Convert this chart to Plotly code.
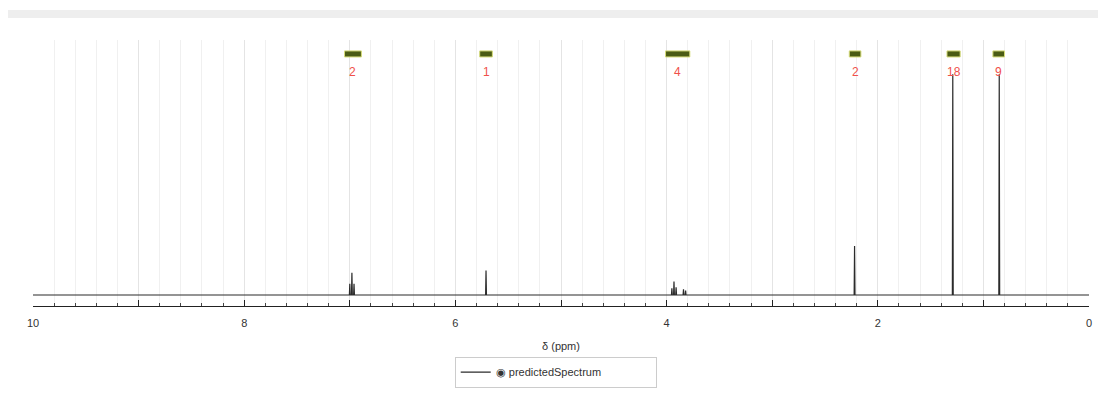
import plotly.graph_objects as go

# ---- data ----
peak_ppm = [7.00, 6.98, 6.96, 5.71, 3.95, 3.93, 3.91, 3.84, 3.82, 2.22, 1.29, 0.85]
peak_int = [5.0, 10.0, 5.0, 11.0, 3.0, 6.0, 3.5, 2.5, 2.0, 22.0, 99.0, 99.0]
integ_from = [7.05, 5.77, 4.01, 2.27, 1.345, 0.91]
integ_to = [6.89, 5.65, 3.78, 2.16, 1.22, 0.80]
integ_label = ["2", "1", "4", "2", "18", "9"]
x_ticks = [10, 9, 8, 7, 6, 5, 4, 3, 2, 1, 0]
x_tick_text = ["10", "", "8", "", "6", "", "4", "", "2", "", "0"]

# build stick-like spectrum from the peak list
half_w = 0.004
xs, ys = [10.0], [0.0]
for p, h in sorted(zip(peak_ppm, peak_int), reverse=True):
    xs += [p + half_w, p, p - half_w]
    ys += [0.0, h, 0.0]
xs.append(0.0)
ys.append(0.0)

fig = go.Figure()
fig.add_trace(go.Scatter(
    x=xs, y=ys, mode="lines", name="◉ predictedSpectrum",
    line=dict(color="#2b2b2b", width=1.2), hoverinfo="skip",
))

# integration bars and labels
for a, b, lab in zip(integ_from, integ_to, integ_label):
    fig.add_shape(type="rect", xref="x", yref="y", x0=a, x1=b, y0=106.7, y1=109.4,
                  fillcolor="#4b5c14", line=dict(color="#d6dc7a", width=1), layer="above")
    fig.add_annotation(x=(a + b) / 2, y=100, xref="x", yref="y", text=lab, showarrow=False,
                       font=dict(family="Liberation Sans, Arial", size=12, color="#f0504a"))

# top header strip
fig.add_shape(type="rect", xref="paper", yref="paper", x0=-0.0284, x1=1.016, y0=1.083, y1=1.113,
              fillcolor="#eeeeee", line=dict(width=0), layer="below")

fig.update_layout(
    width=1106, height=396,
    margin=dict(l=25, r=25, t=32, b=98, autoexpand=False),
    paper_bgcolor="white", plot_bgcolor="white",
    font=dict(family="Liberation Sans, Arial", size=11, color="#333333"),
    showlegend=True,
    legend=dict(orientation="h", x=0.495, xanchor="center", y=-0.19, yanchor="top",
                bordercolor="#cccccc", borderwidth=1, bgcolor="white",
                entrywidth=155, entrywidthmode="pixels",
                font=dict(size=11, color="#333333")),
)
fig.update_xaxes(
    range=[10, 0], showline=True, linecolor="#222222", linewidth=1,
    tickmode="array", tickvals=x_ticks, ticktext=x_tick_text,
    ticks="inside", ticklen=6, tickcolor="#222222", ticklabelstandoff=7,
    showgrid=True, gridcolor="#e4e4e4", gridwidth=1,
    minor=dict(dtick=0.2, ticks="inside", ticklen=3, tickcolor="#444444",
               showgrid=True, gridcolor="#f0f0f0"),
    zeroline=False, automargin=False,
    title=dict(text="δ (ppm)", font=dict(size=11, color="#333333"), standoff=14),
    tickfont=dict(size=11, color="#333333"),
)
fig.update_yaxes(range=[-4.93, 114.3], visible=False, showgrid=False, zeroline=False,
                 automargin=False)

fig.write_html("out.html")
